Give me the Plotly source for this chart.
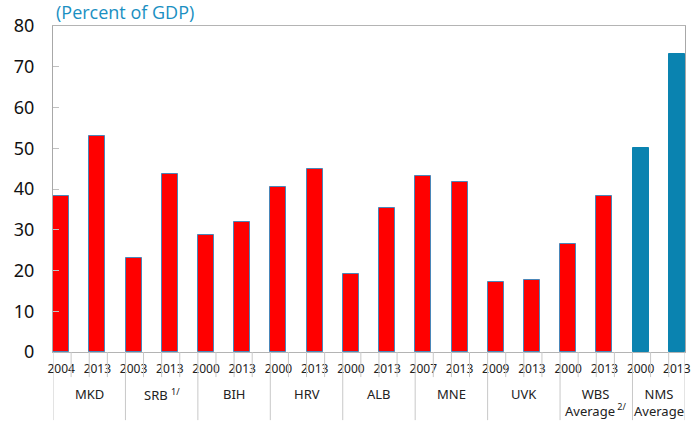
import plotly.graph_objects as go

# data (percent of GDP)
groups = ["MKD", "SRB <sup>1/</sup>", "BIH", "HRV", "ALB", "MNE", "UVK",
          "WBS<br>Average<sup> 2/</sup>", "NMS<br>Average"]
years = ["2004", "2013", "2003", "2013", "2000", "2013", "2000", "2013",
         "2000", "2013", "2007", "2013", "2009", "2013", "2000", "2013",
         "2000", "2013"]
values = [38.4, 53.1, 23.1, 43.6, 28.6, 31.9, 40.4, 44.8,
          19.2, 35.3, 43.3, 41.7, 17.1, 17.6, 26.6, 38.3,
          50.1, 73.1]

RED = "#FF0000"
BLUE = "#0A83B0"
GRID = "#C8C8C8"
FONT = "Noto Sans"

x = list(range(len(values)))
colors = [BLUE if i >= 16 else RED for i in x]
outline = ["#4A86B8" if i < 16 else BLUE for i in x]

fig = go.Figure()
fig.add_trace(go.Bar(
    x=x, y=values, width=0.44,
    marker=dict(color=colors, line=dict(color=outline, width=1)),
    hoverinfo="y",
))

left, right = -0.225, 17.225

# short ticks between every half slot, longer separators between groups
for k in range(35):
    xv = left + 0.5 * k
    if xv > right:
        break
    long_line = (k % 4 == 0)
    fig.add_shape(type="line", xref="x", yref="paper",
                  x0=xv, x1=xv, y0=0, y1=-0.209 if long_line else -0.077,
                  line=dict(color=GRID, width=1))
fig.add_shape(type="line", xref="x", yref="paper", x0=right, x1=right,
              y0=0, y1=-0.209, line=dict(color=GRID, width=1))

# group labels centred in their cells
for g, name in enumerate(groups):
    cx = left + 2 * g + 1 if g < 8 else (left + 16 + right) / 2
    fig.add_annotation(x=cx, y=-0.095, xref="x", yref="paper",
                       text=name, showarrow=False, yanchor="top",
                       font=dict(family=FONT, size=13, color="#222222"))

fig.add_annotation(x=0, y=1, xref="paper", yref="paper", xshift=1, yshift=0,
                   text="(Percent of GDP)", showarrow=False,
                   xanchor="left", yanchor="bottom",
                   font=dict(family="Open Sans", size=18, color="#1A8FC2"))

fig.update_layout(
    width=699, height=424,
    margin=dict(l=53, r=14, t=26, b=72),
    plot_bgcolor="white", paper_bgcolor="white",
    showlegend=False,
    font=dict(family=FONT, color="#111111"),
    bargap=0,
)
fig.update_xaxes(
    range=[left, right], tickmode="array", tickvals=x, ticktext=years,
    ticks="", showgrid=False, zeroline=False, automargin=False,
    showline=True, linecolor="#B4B4B4", mirror=True,
    tickfont=dict(family=FONT, size=12, color="#222222"),
    ticklabelstandoff=6,
)
fig.update_yaxes(
    range=[0, 80], dtick=10, ticks="inside", ticklen=6, tickcolor="#C0C0C0",
    showgrid=False, zeroline=False, automargin=False,
    showline=True, linecolor="#A8A8A8", mirror=True,
    tickfont=dict(family=FONT, size=18, color="#111111"),
    ticklabelstandoff=14,
)

# drop the default 8px body margin so the figure fills the window exactly
fig.write_html("out.html", config={"displayModeBar": False},
               post_script="document.body.style.margin='0';")
